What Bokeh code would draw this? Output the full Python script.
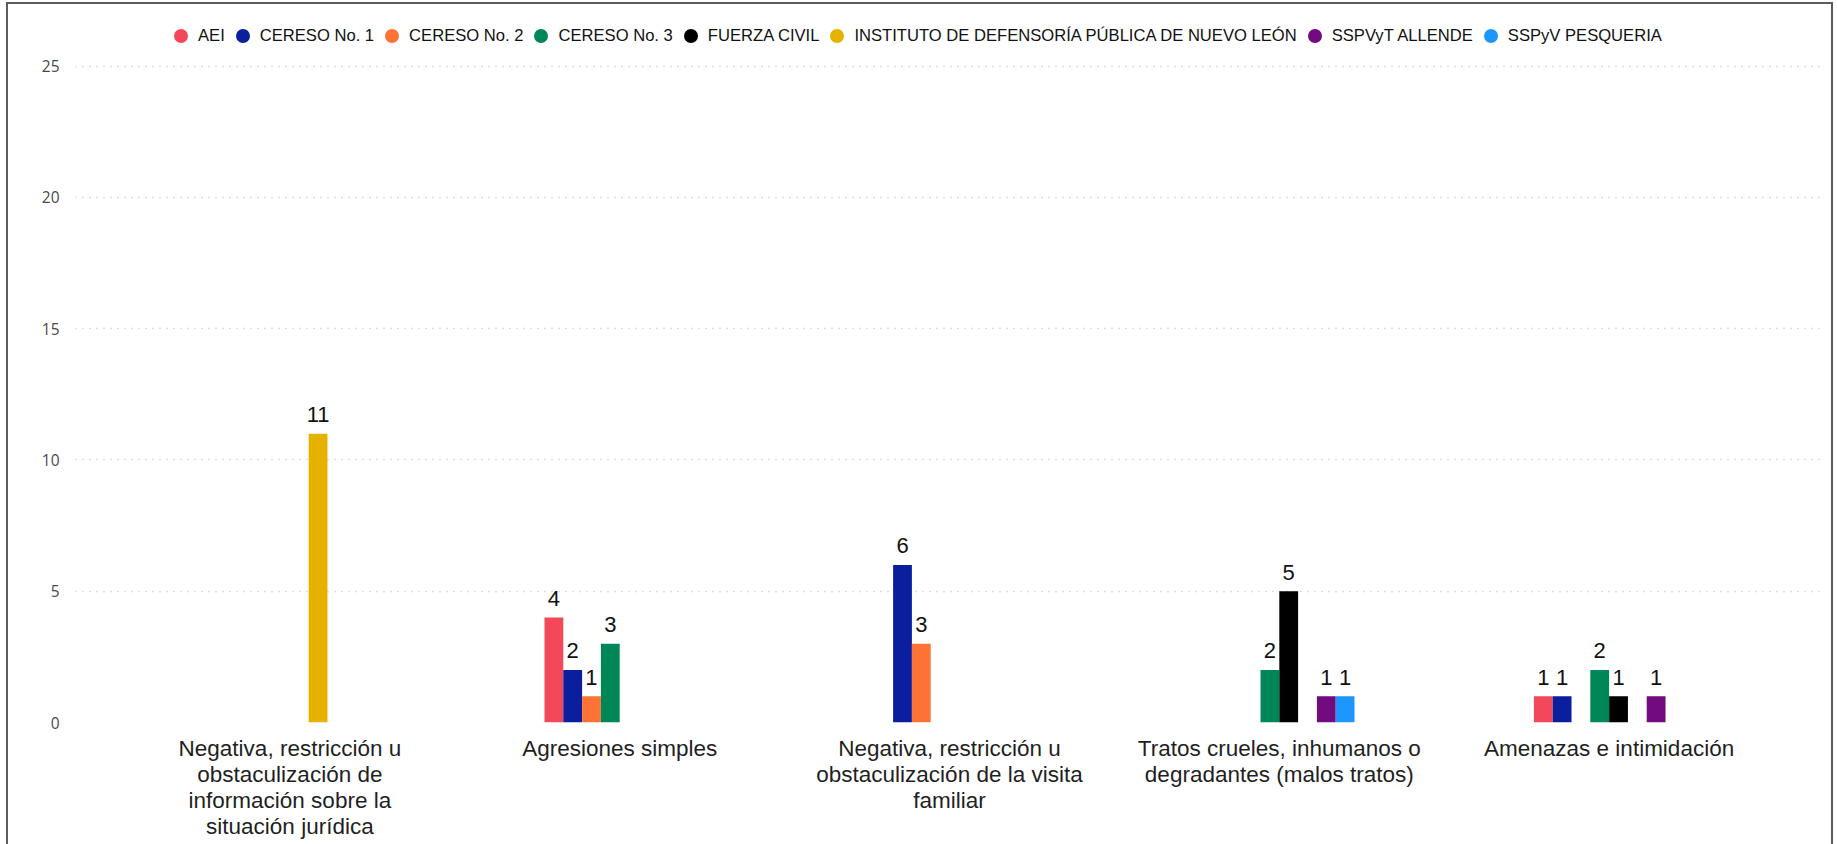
from bokeh.plotting import figure
from bokeh.models import ColumnDataSource, FactorRange, Range1d, Legend, LegendItem, FixedTicker
from bokeh.transform import dodge
from bokeh.core.properties import value
from bokeh.embed import file_html
from bokeh.resources import INLINE

categories = [
    "Negativa, restricción u\nobstaculización de\ninformación sobre la\nsituación jurídica",
    "Agresiones simples",
    "Negativa, restricción u\nobstaculización de la visita\nfamiliar",
    "Tratos crueles, inhumanos o\ndegradantes (malos tratos)",
    "Amenazas e intimidación",
]

series = [
    "AEI",
    "CERESO No. 1",
    "CERESO No. 2",
    "CERESO No. 3",
    "FUERZA CIVIL",
    "INSTITUTO DE DEFENSORÍA PÚBLICA DE NUEVO LEÓN",
    "SSPVyT ALLENDE",
    "SSPyV PESQUERIA",
]

aei = [0, 4, 0, 0, 1]
cereso_1 = [0, 2, 6, 0, 1]
cereso_2 = [0, 1, 3, 0, 0]
cereso_3 = [0, 3, 0, 2, 2]
fuerza_civil = [0, 0, 0, 5, 1]
instituto = [11, 0, 0, 0, 0]
sspvyt_allende = [0, 0, 0, 1, 1]
sspyv_pesqueria = [0, 0, 0, 1, 0]

values = [aei, cereso_1, cereso_2, cereso_3, fuerza_civil, instituto, sspvyt_allende, sspyv_pesqueria]

colors = ["#F2485A", "#0B1F9E", "#FF7236", "#008758", "#000000", "#E6B200", "#720A80", "#1E96FF"]

y_ticks = [0, 5, 10, 15, 20, 25]

SLOT = 0.057
LABEL_FONT = "Liberation Sans"

# frame spans from just under the page top (room for the legend) to the x-axis;
# the visible scale (0..25) keeps the reference's pixel-per-unit ratio.
p = figure(
    x_range=FactorRange(factors=categories, range_padding=0.15, range_padding_units="absolute"),
    y_range=Range1d(0, 27.12),
    width=1837, height=844,
    output_backend="svg", toolbar_location=None,
    min_border_left=75, min_border_right=14, min_border_top=10, min_border_bottom=122,
)
p.outline_line_color = None
p.background_fill_color = "white"
p.border_fill_alpha = 0
p.styles = {"box-shadow": "inset 6px 0 0 #fff, inset -4px 0 0 #fff, inset 0 2px 0 #fff, "
                          "inset 8px 0 0 #5c5c5c, inset -6px 0 0 #5c5c5c, inset 0 4px 0 #5c5c5c"}

p.xgrid.visible = False
p.ygrid.grid_line_color = "#bbbbbb"
p.ygrid.grid_line_dash = "1 6"
p.ygrid.grid_line_width = 1.5

p.yaxis.ticker = FixedTicker(ticks=y_ticks)
p.yaxis.axis_line_color = None
p.yaxis.major_tick_line_color = None
p.yaxis.minor_tick_line_color = None
p.yaxis.major_label_standoff = 10
p.yaxis.major_label_text_font = "Open Sans"
p.yaxis.major_label_text_font_size = "15.5px"
p.yaxis.major_label_text_color = "#4a4a4a"

p.xaxis.axis_line_color = None
p.xaxis.major_tick_line_color = None
p.xaxis.minor_tick_line_color = None
p.xaxis.major_label_standoff = 7
p.xaxis.major_label_text_font = LABEL_FONT
p.xaxis.major_label_text_font_size = "22.5px"
p.xaxis.major_label_text_color = "#1f1f1f"
p.xaxis.major_label_text_line_height = 1.05

legend_items = []
for i, (name, vals, col) in enumerate(zip(series, values, colors)):
    off = (i - 3.5) * SLOT
    xs = [c for c, v in zip(categories, vals) if v]
    tops = [v for v in vals if v]
    src = ColumnDataSource(dict(x=xs, top=tops, label=[str(v) for v in tops]))
    p.vbar(x=dodge("x", off, range=p.x_range), top="top", bottom=0, width=SLOT,
           source=src, fill_color=col, line_color=None)
    p.text(x=dodge("x", off, range=p.x_range), y="top", text="label", source=src,
           text_align="center", text_baseline="alphabetic", y_offset=-19,
           text_font=value(LABEL_FONT), text_font_size="22px", text_color="#111111")
    r = p.scatter(x=dodge("x", off, range=p.x_range), y="top", source=src, size=0,
                  marker="circle", fill_color=col, line_color=None)
    legend_items.append(LegendItem(label=name, renderers=[r]))

legend = Legend(
    items=legend_items, orientation="horizontal", location=(88, 669),
    glyph_width=35, glyph_height=35, label_standoff=0, spacing=0,
    padding=0, margin=0, border_line_color=None, background_fill_alpha=0,
    label_text_font=LABEL_FONT, label_text_font_size="16.6px", label_text_color="#111111",
)
p.add_layout(legend, "center")

open("out.html", "w").write(file_html(p, INLINE))
